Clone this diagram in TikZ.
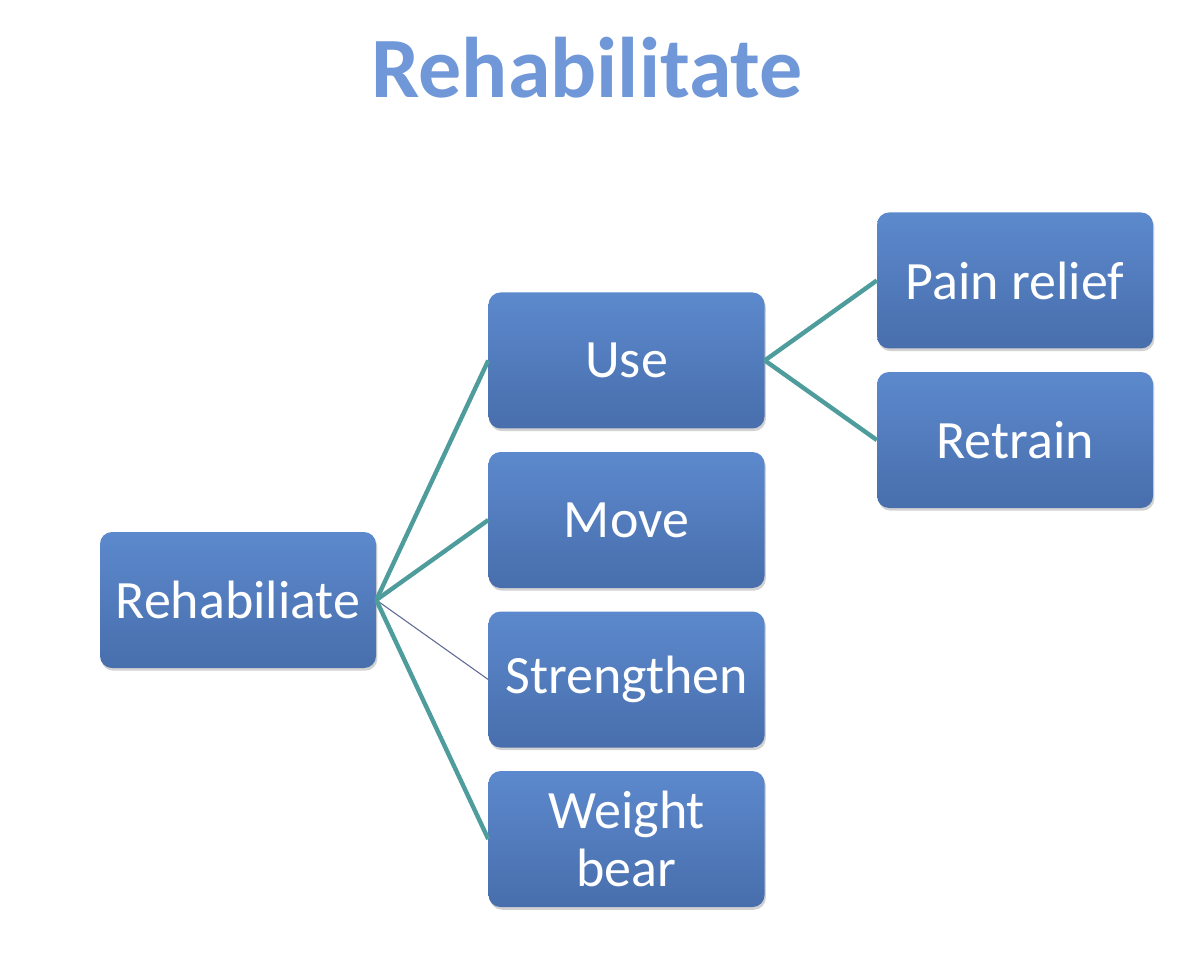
\documentclass[tikz,border=0pt]{standalone}
\usepackage{fontspec}
\setmainfont{Carlito}
\usetikzlibrary{shapes,shadows,calc}
\usetikzlibrary{positioning}
\definecolor{boxtop}{RGB}{92,137,205}
\definecolor{boxbot}{RGB}{72,110,172}
\definecolor{linkcol}{RGB}{78,156,156}
\definecolor{thincol}{RGB}{96,106,148}
\definecolor{titlecol}{RGB}{112,151,216}
\tikzstyle{box}=[rounded corners=9pt, minimum width=207pt, minimum height=102pt,
top color=boxtop, bottom color=boxbot, text=white, align=center,
font=\fontsize{40.5}{43}\selectfont,
drop shadow={opacity=0.35, shadow xshift=1pt, shadow yshift=-2pt}]
\tikzstyle{link}=[draw=linkcol, line width=3.3pt]
\tikzstyle{thinlink}=[draw=thincol, line width=0.8pt]

\begin{document}
\begin{tikzpicture}[x=0.75pt, y=0.75pt]
    \useasboundingbox[fill=white] (0,0) rectangle (1180,-954);

    \node[text=titlecol, font=\bfseries\fontsize{64.5}{68}\selectfont, anchor=base] (title) at (587,-97) {Rehabilitate};

    \node[box] (root) at (238,-600) {Rehabiliate};

    % SECOND LEVEL
    \node[box, right=84pt of root, yshift=60pt] (move) {Move};
    \node[box, above=17.25pt of move] (use) {Use};
    \node[box, below=17.25pt of move] (strength) {Strengthen};
    \node[box, below=17.25pt of strength] (weight) {Weight\\bear};

    % THIRD LEVEL
    \node[box, right=84pt of use, yshift=60pt] (pain) {Pain relief};
    \node[box, below=17.25pt of pain] (retrain) {Retrain};

    % LINKS
    \draw[link] (root.east) -- (use.west);
    \draw[link] (root.east) -- (move.west);
    \draw[thinlink] (root.east) -- (strength.west);
    \draw[link] (root.east) -- (weight.west);
    \draw[link] (use.east) -- (pain.west);
    \draw[link] (use.east) -- (retrain.west);

\end{tikzpicture}
\end{document}
